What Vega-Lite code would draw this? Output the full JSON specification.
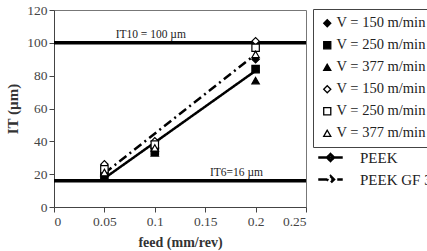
{
  "$schema": "https://vega.github.io/schema/vega-lite/v6.json",
  "width": 252,
  "height": 197,
  "autosize": "none",
  "padding": {"left": 54, "top": 10, "right": 121, "bottom": 44},
  "background": "white",
  "datasets": {
    "limits": [
      {"IT": 100, "label": "IT10 = 100 µm", "feed": 0.096},
      {"IT": 16, "label": "IT6=16 µm", "feed": 0.181}
    ],
    "trend": [
      {"material": "PEEK", "feed": 0.05, "IT": 17.5},
      {"material": "PEEK", "feed": 0.2, "IT": 83},
      {"material": "PEEK GF 30", "feed": 0.05, "IT": 20.5},
      {"material": "PEEK GF 30", "feed": 0.2, "IT": 93}
    ],
    "measured": [
      {"series": "a150", "feed": 0.05, "IT": 20},
      {"series": "a250", "feed": 0.05, "IT": 19},
      {"series": "a377", "feed": 0.05, "IT": 18},
      {"series": "b150", "feed": 0.05, "IT": 26},
      {"series": "b250", "feed": 0.05, "IT": 23},
      {"series": "b377", "feed": 0.05, "IT": 21},
      {"series": "a150", "feed": 0.1, "IT": 36},
      {"series": "a250", "feed": 0.1, "IT": 34},
      {"series": "a377", "feed": 0.1, "IT": 33},
      {"series": "b150", "feed": 0.1, "IT": 40},
      {"series": "b250", "feed": 0.1, "IT": 38},
      {"series": "b377", "feed": 0.1, "IT": 36},
      {"series": "a150", "feed": 0.2, "IT": 90},
      {"series": "a250", "feed": 0.2, "IT": 84},
      {"series": "a377", "feed": 0.2, "IT": 77},
      {"series": "b150", "feed": 0.2, "IT": 101},
      {"series": "b250", "feed": 0.2, "IT": 97},
      {"series": "b377", "feed": 0.2, "IT": 93}
    ]
  },
  "encoding": {
    "x": {
      "field": "feed", "type": "quantitative",
      "scale": {"domain": [0, 0.25], "nice": false},
      "axis": {"values": [0, 0.05, 0.1, 0.15, 0.2, 0.25], "format": "~g", "title": "feed (mm/rev)", "titlePadding": 8, "titleFontSize": 14}
    },
    "y": {
      "field": "IT", "type": "quantitative",
      "scale": {"domain": [0, 120], "nice": false},
      "axis": {"values": [0, 20, 40, 60, 80, 100, 120], "title": "IT (µm)", "titlePadding": 6}
    }
  },
  "layer": [
    {
      "data": {"name": "limits"},
      "mark": {"type": "rule", "color": "black", "strokeWidth": 3.5},
      "encoding": {"x": null}
    },
    {
      "data": {"name": "limits"},
      "mark": {"type": "text", "baseline": "bottom", "dy": -3, "fontSize": 11.5, "color": "#222"},
      "encoding": {"text": {"field": "label"}}
    },
    {
      "data": {"name": "trend"},
      "mark": {"type": "line", "color": "black", "strokeWidth": 2.5},
      "encoding": {
        "strokeDash": {
          "field": "material", "type": "nominal",
          "scale": {"domain": ["PEEK", "PEEK GF 30"], "range": [[1, 0], [9, 4, 2, 4]]},
          "legend": {
            "title": null,
            "orient": "none",
            "legendX": 259,
            "legendY": 130,
            "padding": 4,
            "symbolType": "M-1,0H1M0,-0.28L0.28,0L0,0.28L-0.28,0Z",
            "symbolSize": 600,
            "symbolStrokeWidth": 2.5,
            "labelFontSize": 15,
            "labelOffset": 16,
            "rowPadding": 0,
            "encode": {"symbols": {"update": {"fill": {"signal": "datum.value === 'PEEK' ? 'black' : 'white'"}, "stroke": {"value": "black"}}}}
          }
        }
      }
    },
    {
      "data": {"name": "measured"},
      "mark": {"type": "point", "filled": true, "stroke": "black", "strokeWidth": 1.2, "size": 55, "opacity": 1},
      "encoding": {
        "shape": {
          "field": "series", "type": "nominal",
          "scale": {"domain": ["a150", "a250", "a377", "b150", "b250", "b377"], "range": ["diamond", "square", "triangle-up", "diamond", "square", "triangle-up"]},
          "legend": {
            "title": null,
            "orient": "none",
            "legendX": 259,
            "legendY": -1,
            "padding": 7,
            "strokeColor": "#444",
            "labelExpr": "'V = ' + substring(datum.label, 1) + ' m/min'",
            "labelFontSize": 14.5,
            "labelOffset": 2,
            "symbolSize": 50,
            "symbolStrokeWidth": 1.3,
            "rowPadding": 7
          }
        },
        "fill": {
          "field": "series", "type": "nominal",
          "scale": {"domain": ["a150", "a250", "a377", "b150", "b250", "b377"], "range": ["black", "black", "black", "white", "white", "white"]},
          "legend": {
            "title": null,
            "orient": "none",
            "legendX": 259,
            "legendY": -1,
            "padding": 7,
            "strokeColor": "#444",
            "labelExpr": "'V = ' + substring(datum.label, 1) + ' m/min'",
            "labelFontSize": 14.5,
            "labelOffset": 2,
            "symbolSize": 50,
            "symbolStrokeWidth": 1.3,
            "rowPadding": 7
          }
        }
      }
    }
  ],
  "config": {
    "font": "Liberation Serif",
    "view": {"stroke": "#777", "strokeWidth": 1},
    "axis": {
      "grid": false,
      "labelFont": "Liberation Serif",
      "labelFontSize": 13.5,
      "labelColor": "#444",
      "titleFont": "Liberation Serif",
      "titleFontSize": 15,
      "titleFontWeight": "bold",
      "titleColor": "#333",
      "domainColor": "#444",
      "tickColor": "#444",
      "tickSize": 5
    },
    "legend": {
      "labelFont": "Liberation Serif",
      "labelColor": "#222"
    },
    "text": {"font": "Liberation Serif"}
  }
}
